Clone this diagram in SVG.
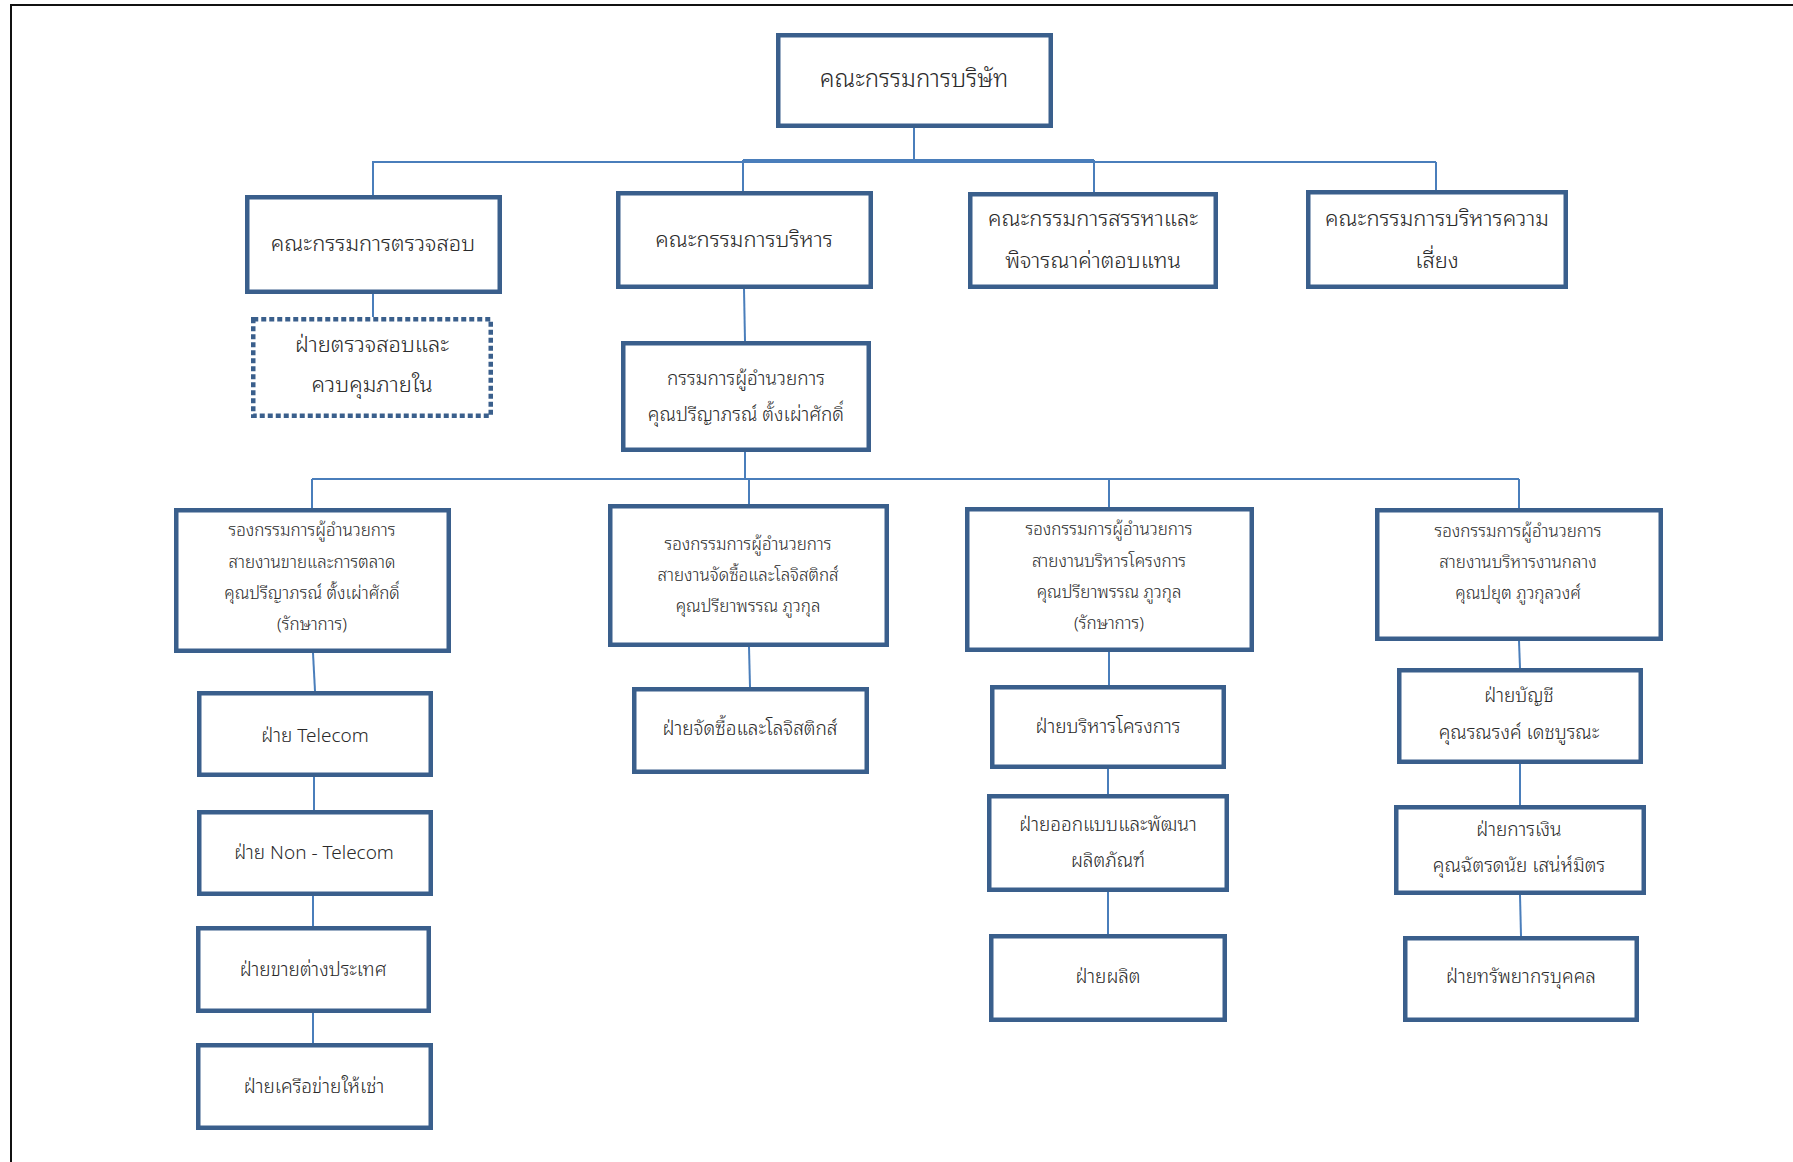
<svg xmlns="http://www.w3.org/2000/svg" width="1793" height="1162" viewBox="0 0 1793 1162">
<style>
.box{fill:#fff;stroke:#3A5F8C;stroke-width:4.5}
.dot{fill:#fff;stroke:#3A5F8C;stroke-width:4.5;stroke-dasharray:5 3}
.con{fill:none;stroke:#4A7EBB;stroke-width:2}
.frame{stroke:#111;stroke-width:2}
text{font-family:"Noto Sans Thai Looped","Loma","Garuda","Norasi","Tlwg Typo","Noto Sans Thai","Noto Sans","DejaVu Sans",sans-serif;font-weight:300;fill:#2a2a2a;text-anchor:middle}
.t0{font-size:24px}
.t1{font-size:22px}
.t2{font-size:19px}
.t3{font-size:17px}
</style>
<rect width="1793" height="1162" fill="#fff"/>
<g id="frame">
<line class="frame" x1="10" y1="5" x2="1793" y2="5"/>
<line class="frame" x1="11" y1="4" x2="11" y2="1162"/>
</g>
<g id="connectors">
<path class="con" d="M914,127 V161"/>
<path class="con" d="M372,162 H1436"/>
<path class="con" d="M743,160 H1094"/>
<path class="con" d="M373,162 V195"/>
<path class="con" d="M743,160 V191"/>
<path class="con" d="M1094,160 V192"/>
<path class="con" d="M1436,162 V190"/>
<path class="con" d="M373,294 V317"/>
<path class="con" d="M744,289 L745,341"/>
<path class="con" d="M745,452 V479"/>
<path class="con" d="M312,479 H1519"/>
<path class="con" d="M312,479 V508"/>
<path class="con" d="M749,479 V504"/>
<path class="con" d="M1109,479 V507"/>
<path class="con" d="M1519,479 V508"/>
<path class="con" d="M313,653 L315,691"/>
<path class="con" d="M314,777 V810"/>
<path class="con" d="M313,896 V926"/>
<path class="con" d="M313,1013 V1043"/>
<path class="con" d="M749,647 L750,687"/>
<path class="con" d="M1109,652 V685"/>
<path class="con" d="M1108,769 V794"/>
<path class="con" d="M1108,892 V934"/>
<path class="con" d="M1519,641 L1520,668"/>
<path class="con" d="M1520,764 V805"/>
<path class="con" d="M1520,895 L1521,936"/>
</g>
<g id="n-board">
<rect class="box" x="778.25" y="35.25" width="272.5" height="90.5"/>
<text class="t0" x="914" y="87">คณะกรรมการบริษัท</text>
</g>
<g id="n-audit">
<rect class="box" x="247.25" y="197.25" width="252.5" height="94.5"/>
<text class="t1" x="373" y="251">คณะกรรมการตรวจสอบ</text>
</g>
<g id="n-exec">
<rect class="box" x="618.25" y="193.25" width="252.5" height="93.5"/>
<text class="t1" x="744" y="247">คณะกรรมการบริหาร</text>
</g>
<g id="n-nomination">
<rect class="box" x="970.25" y="194.25" width="245.5" height="92.5"/>
<text class="t1" x="1093" y="226">คณะกรรมการสรรหาและ</text>
<text class="t1" x="1093" y="268">พิจารณาค่าตอบแทน</text>
</g>
<g id="n-risk">
<rect class="box" x="1308.25" y="192.25" width="257.5" height="94.5"/>
<text class="t1" x="1437" y="226">คณะกรรมการบริหารความ</text>
<text class="t1" x="1437" y="268">เสี่ยง</text>
</g>
<g id="n-internal-audit">
<rect class="dot" x="253.25" y="319.25" width="237.5" height="96.5"/>
<text class="t1" x="372" y="352">ฝ่ายตรวจสอบและ</text>
<text class="t1" x="372" y="392">ควบคุมภายใน</text>
</g>
<g id="n-ceo">
<rect class="box" x="623.25" y="343.25" width="245.5" height="106.5"/>
<text class="t2" x="746" y="385">กรรมการผู้อำนวยการ</text>
<text class="t2" x="746" y="421">คุณปรีญาภรณ์  ตั้งเผ่าศักดิ์</text>
</g>
<g id="n-vp-sales">
<rect class="box" x="176.25" y="510.25" width="272.5" height="140.5"/>
<text class="t3" x="312" y="536">รองกรรมการผู้อำนวยการ</text>
<text class="t3" x="312" y="568">สายงานขายและการตลาด</text>
<text class="t3" x="312" y="599">คุณปรีญาภรณ์ ตั้งเผ่าศักดิ์</text>
<text class="t3" x="312" y="630">(รักษาการ)</text>
</g>
<g id="n-vp-procurement">
<rect class="box" x="610.25" y="506.25" width="276.5" height="138.5"/>
<text class="t3" x="748" y="550">รองกรรมการผู้อำนวยการ</text>
<text class="t3" x="748" y="581">สายงานจัดซื้อและโลจิสติกส์</text>
<text class="t3" x="748" y="612">คุณปรียาพรรณ ภูวกุล</text>
</g>
<g id="n-vp-project">
<rect class="box" x="967.25" y="509.25" width="284.5" height="140.5"/>
<text class="t3" x="1109" y="535">รองกรรมการผู้อำนวยการ</text>
<text class="t3" x="1109" y="567">สายงานบริหารโครงการ</text>
<text class="t3" x="1109" y="598">คุณปรียาพรรณ  ภูวกุล</text>
<text class="t3" x="1109" y="629">(รักษาการ)</text>
</g>
<g id="n-vp-central">
<rect class="box" x="1377.25" y="510.25" width="283.5" height="128.5"/>
<text class="t3" x="1518" y="537">รองกรรมการผู้อำนวยการ</text>
<text class="t3" x="1518" y="568">สายงานบริหารงานกลาง</text>
<text class="t3" x="1518" y="599">คุณปยุต  ภูวกุลวงศ์</text>
</g>
<g id="n-telecom">
<rect class="box" x="199.25" y="693.25" width="231.5" height="81.5"/>
<text class="t2" x="315" y="742">ฝ่าย Telecom</text>
</g>
<g id="n-nontelecom">
<rect class="box" x="199.25" y="812.25" width="231.5" height="81.5"/>
<text class="t2" x="314" y="859">ฝ่าย Non - Telecom</text>
</g>
<g id="n-export">
<rect class="box" x="198.25" y="928.25" width="230.5" height="82.5"/>
<text class="t2" x="313" y="976">ฝ่ายขายต่างประเทศ</text>
</g>
<g id="n-rental">
<rect class="box" x="198.25" y="1045.25" width="232.5" height="82.5"/>
<text class="t2" x="314" y="1093">ฝ่ายเครือข่ายให้เช่า</text>
</g>
<g id="n-procurement">
<rect class="box" x="634.25" y="689.25" width="232.5" height="82.5"/>
<text class="t2" x="750" y="735">ฝ่ายจัดซื้อและโลจิสติกส์</text>
</g>
<g id="n-project">
<rect class="box" x="992.25" y="687.25" width="231.5" height="79.5"/>
<text class="t2" x="1108" y="733">ฝ่ายบริหารโครงการ</text>
</g>
<g id="n-design">
<rect class="box" x="989.25" y="796.25" width="237.5" height="93.5"/>
<text class="t2" x="1108" y="831">ฝ่ายออกแบบและพัฒนา</text>
<text class="t2" x="1108" y="867">ผลิตภัณฑ์</text>
</g>
<g id="n-production">
<rect class="box" x="991.25" y="936.25" width="233.5" height="83.5"/>
<text class="t2" x="1108" y="983">ฝ่ายผลิต</text>
</g>
<g id="n-accounting">
<rect class="box" x="1399.25" y="670.25" width="241.5" height="91.5"/>
<text class="t2" x="1519" y="702">ฝ่ายบัญชี</text>
<text class="t2" x="1519" y="739">คุณรณรงค์  เดชบูรณะ</text>
</g>
<g id="n-finance">
<rect class="box" x="1396.25" y="807.25" width="247.5" height="85.5"/>
<text class="t2" x="1519" y="836">ฝ่ายการเงิน</text>
<text class="t2" x="1519" y="872">คุณฉัตรดนัย  เสน่ห์มิตร</text>
</g>
<g id="n-hr">
<rect class="box" x="1405.25" y="938.25" width="231.5" height="81.5"/>
<text class="t2" x="1521" y="983">ฝ่ายทรัพยากรบุคคล</text>
</g>
</svg>
